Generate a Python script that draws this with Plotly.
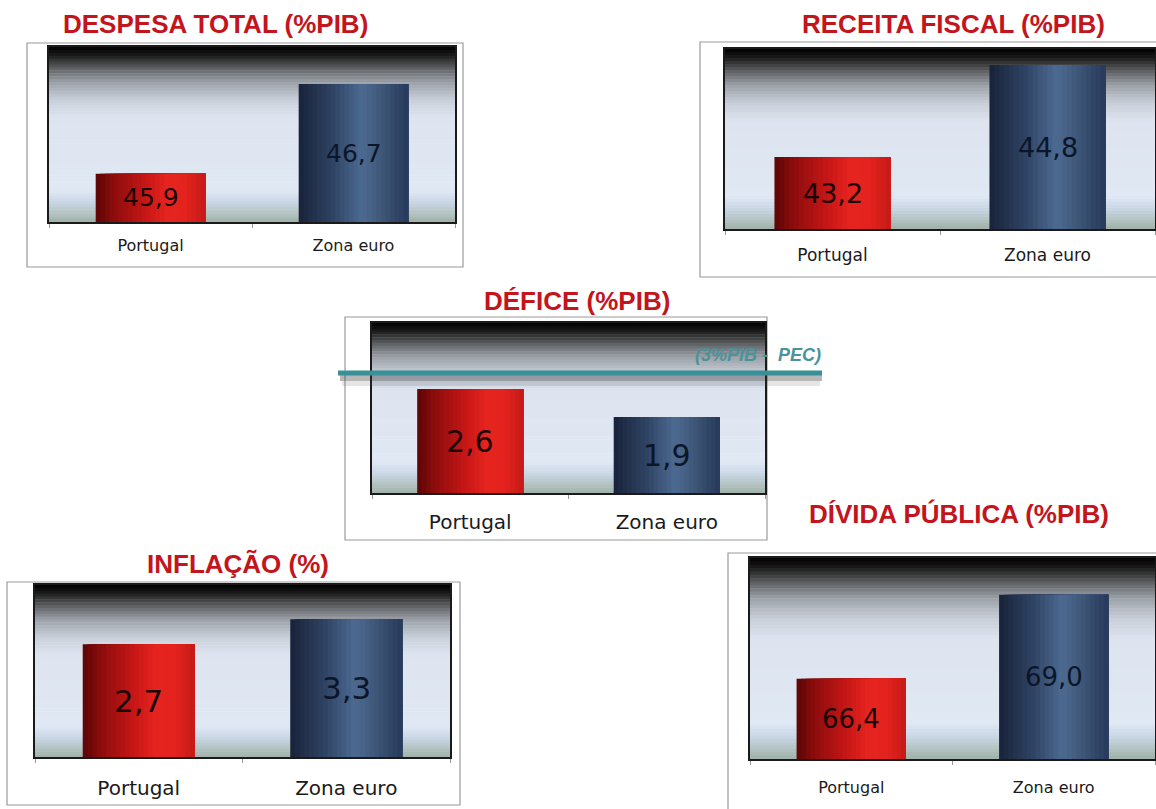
import plotly.graph_objects as go

W, H = 1156, 809

# ---------------- data ----------------
categories = ["Portugal", "Zona euro"]
despesa_total = [45.9, 46.7]
receita_fiscal = [43.2, 44.8]
defice = [2.6, 1.9]
inflacao = [2.7, 3.3]
divida_publica = [66.4, 69.0]
pec_limit = 3.0
pec_label = "(3%PIB -  PEC)"

titles = ["DESPESA TOTAL (%PIB)", "RECEITA FISCAL (%PIB)", "DÉFICE (%PIB)",
          "INFLAÇÃO (%)", "DÍVIDA PÚBLICA (%PIB)"]
series = [despesa_total, receita_fiscal, defice, inflacao, divida_publica]

# ---------------- layout / style ----------------
y_ranges = [[45.47, 47.03], [41.95, 45.08], [0, 4.25], [0, 4.12], [63.92, 70.14]]
# plot area in pixels: x0, x1, ytop, ybottom
plot_px = [(49, 455, 47, 222), (725, 1155, 49, 229), (372, 765, 323, 493),
           (35, 450, 585, 757), (750, 1155, 558, 759)]
box_px = [(27, 463, 43, 267), (700, 1170, 42, 277), (345, 767, 317, 540),
          (7, 460, 582, 805), (728, 1170, 553, 820)]
title_px = [(215, 24), (953, 24), (577, 301), (238, 564), (959, 514)]
label_size = [16, 17, 20, 20, 16]
label_standoff = [8, 10, 10, 12, 13]
value_size = [25, 27, 30, 31, 26]

RED = "#c4141c"


def fx(p):
    return p / W


def fy(p):
    return 1 - p / H


def hex2rgb(h):
    h = h.lstrip("#")
    return tuple(int(h[i:i + 2], 16) for i in (0, 2, 4))


def interp(stops, t):
    for (t0, c0), (t1, c1) in zip(stops[:-1], stops[1:]):
        if t0 <= t <= t1:
            f = 0 if t1 == t0 else (t - t0) / (t1 - t0)
            a, b = hex2rgb(c0), hex2rgb(c1)
            return "rgb(%d,%d,%d)" % tuple(round(a[i] + (b[i] - a[i]) * f) for i in range(3))
    return stops[-1][1]


bg_stops = [(0.0, "#000000"), (0.05, "#1c1c1c"), (0.12, "#5c5e60"), (0.20, "#9ca1a8"),
            (0.30, "#c8ced8"), (0.40, "#dde4ef"), (0.82, "#e0e8f4"), (0.88, "#ccd9e8"),
            (0.94, "#b6c7c8"), (1.0, "#9fb1a7")]
red_stops = [(0.0, "#5a0606"), (0.15, "#8a0c0c"), (0.45, "#c51616"), (0.65, "#e6241f"),
             (0.82, "#e4231e"), (1.0, "#c41a18")]
blue_stops = [(0.0, "#18233a"), (0.3, "#2e4262"), (0.58, "#4d6a92"), (0.75, "#3f5879"),
              (1.0, "#27395a")]

BAR_W = 0.54
NSTRIP = 24

fig = go.Figure()
box_shapes = []
bg_shapes = []
top_shapes = []
annotations = []
layout = {}

for i in range(5):
    n = "" if i == 0 else str(i + 1)
    xa, ya = "x" + n, "y" + n
    x0, x1, yt, yb = plot_px[i]
    vals = series[i]

    # bars drawn as overlapping vertical colour strips (horizontal gradient)
    sw = BAR_W / NSTRIP
    for k in range(NSTRIP):
        t = (k + 0.5) / NSTRIP
        fig.add_trace(go.Bar(
            x=categories, y=vals, xaxis=xa, yaxis=ya,
            width=BAR_W - k * sw, offset=-BAR_W / 2 + k * sw,
            marker=dict(color=[interp(red_stops, t), interp(blue_stops, t)], line=dict(width=0)),
            showlegend=False, hoverinfo="skip"))

    layout["xaxis" + n] = dict(
        domain=[fx(x0), fx(x1)], anchor=ya, type="category",
        showline=True, mirror=True, linecolor="#1a1a1a", linewidth=2,
        ticks="outside", tickson="boundaries", ticklen=4, tickcolor="#999",
        tickfont=dict(family="DejaVu Sans", size=label_size[i], color="#1a1a1a"),
        ticklabelstandoff=label_standoff[i], showgrid=False, fixedrange=True)
    layout["yaxis" + n] = dict(
        domain=[fy(yb), fy(yt)], anchor=xa, range=y_ranges[i],
        showline=True, mirror=True, linecolor="#1a1a1a", linewidth=2,
        showticklabels=False, ticks="", showgrid=False, zeroline=False, fixedrange=True)

    # outer white box
    bx0, bx1, byt, byb = box_px[i]
    box_shapes.append(dict(type="rect", xref="paper", yref="paper",
                           x0=fx(bx0), x1=fx(bx1), y0=fy(byb), y1=fy(byt),
                           fillcolor="white", line=dict(color="#9a9a9a", width=1.2),
                           layer="below"))

    # gradient plot background
    nb = 60
    for b in range(nb):
        bg_shapes.append(dict(
            type="rect", xref=xa + " domain", yref=ya + " domain",
            x0=0, x1=1, y0=max(0, 1 - (b + 1) / nb - 0.003), y1=1 - b / nb,
            fillcolor=interp(bg_stops, (b + 0.5) / nb), line=dict(width=0), layer="below"))

    # title
    tx, ty = title_px[i]
    annotations.append(dict(text="<b>%s</b>" % titles[i], xref="paper", yref="paper",
                            x=fx(tx), y=fy(ty), xanchor="center", yanchor="middle",
                            showarrow=False,
                            font=dict(family="Liberation Sans", size=26, color=RED)))

    # value labels centred in the visible part of each bar
    lo = y_ranges[i][0]
    for c, v, col in zip(categories, vals, ["#1a0404", "#0c1628"]):
        annotations.append(dict(text=("%.1f" % v).replace(".", ","), x=c, y=(lo + v) / 2,
                                xref=xa, yref=ya, showarrow=False,
                                xanchor="center", yanchor="middle",
                                font=dict(family="DejaVu Sans", size=value_size[i], color=col)))

# PEC 3% reference line on the deficit panel (with shadow)
top_shapes.append(dict(type="rect", xref="paper", yref="y3", ysizemode="pixel", yanchor=pec_limit,
                       x0=fx(340), x1=fx(822), y0=-2, y1=-8,
                       fillcolor="rgba(50,50,50,0.35)", line=dict(width=0), layer="above"))
top_shapes.append(dict(type="rect", xref="paper", yref="y3", ysizemode="pixel", yanchor=pec_limit,
                       x0=fx(342), x1=fx(820), y0=-8, y1=-13,
                       fillcolor="rgba(80,80,80,0.15)", line=dict(width=0), layer="above"))
top_shapes.append(dict(type="line", xref="paper", yref="y3", x0=fx(338), x1=fx(822),
                       y0=pec_limit, y1=pec_limit, line=dict(color="#3a9098", width=5),
                       layer="above"))
annotations.append(dict(text="<b><i>%s</i></b>" % pec_label, xref="paper", yref="y3",
                        x=fx(823), y=pec_limit, xanchor="right", yanchor="bottom", yshift=6,
                        showarrow=False,
                        font=dict(family="Liberation Sans", size=18, color="#4a939b")))

fig.update_layout(
    width=W, height=H, margin=dict(l=0, r=0, t=0, b=0),
    paper_bgcolor="white", plot_bgcolor="#e0e8f4",
    barmode="overlay", bargap=0.46, showlegend=False, hovermode=False,
    shapes=box_shapes + bg_shapes + top_shapes, annotations=annotations, **layout)

fig.write_html("out.html", config={"displayModeBar": False})

# remove the browser's default page margin so pixel positions line up
with open("out.html", "r", encoding="utf-8") as f:
    html = f.read()
html = html.replace("<body>", '<body style="margin:0;padding:0;overflow:hidden">', 1)
with open("out.html", "w", encoding="utf-8") as f:
    f.write(html)
